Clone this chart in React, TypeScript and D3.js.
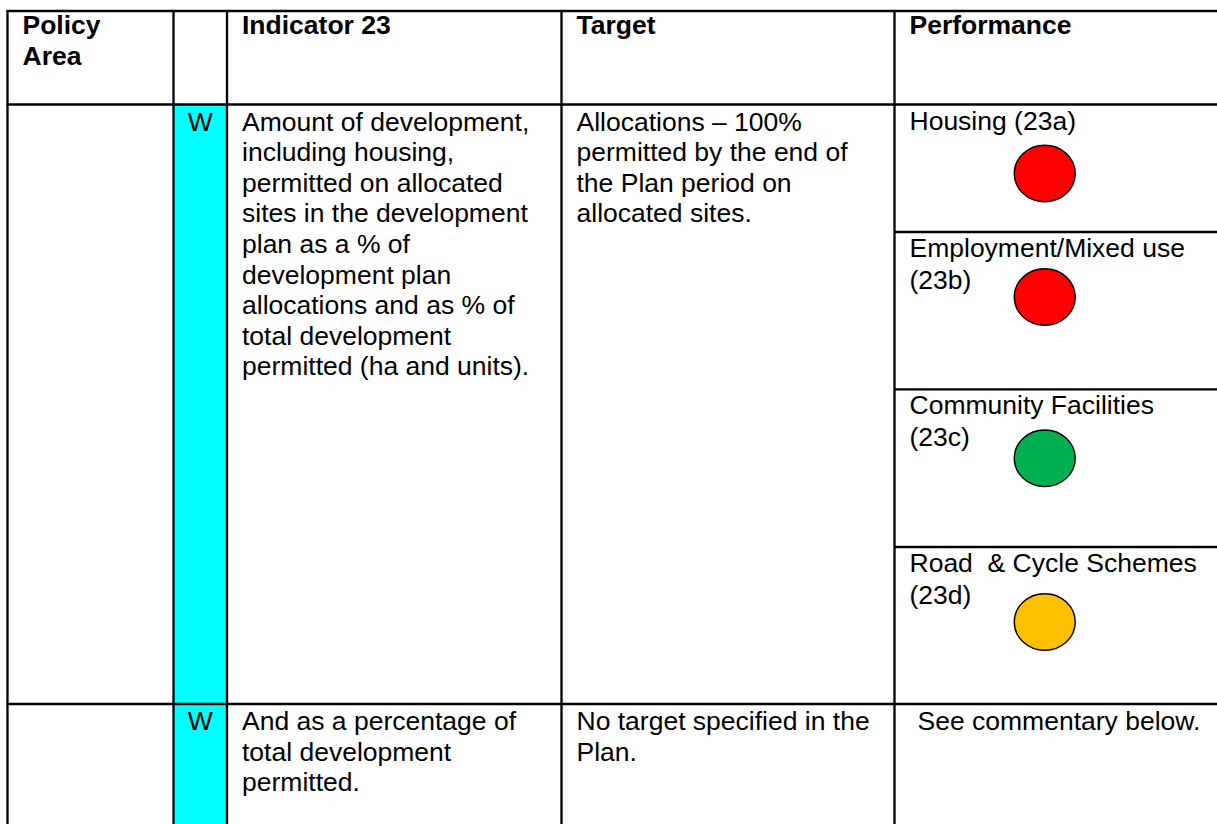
import React from "react";
import * as d3 from "d3";

// ---- data ----
const headers: string[][] = [["Policy", "Area"], [], ["Indicator 23"], ["Target"], ["Performance"]];
const rowMarks: string[] = ["W", "W"];
const indicatorText: string[][] = [
  [
    "Amount of development,",
    "including housing,",
    "permitted on allocated",
    "sites in the development",
    "plan as a % of",
    "development plan",
    "allocations and as % of",
    "total development",
    "permitted (ha and units).",
  ],
  ["And as a percentage of", "total development", "permitted."],
];
const targetText: string[][] = [
  ["Allocations \u2013 100%", "permitted by the end of", "the Plan period on", "allocated sites."],
  ["No target specified in the", "Plan."],
];
const perfLabels: string[][] = [
  ["Housing (23a)"],
  ["Employment/Mixed use", "(23b)"],
  ["Community Facilities", "(23c)"],
  ["Road  & Cycle Schemes", "(23d)"],
];
const perfStatus: string[] = ["red", "red", "green", "amber"];
const commentary = "See commentary below.";

// ---- layout ----
const W = 1217;
const H = 824;
const colEdges = [7.5, 173.5, 227, 561.5, 894.5, 1240];
const rowEdges = [11, 104.5, 704, 860];
const perfEdges = [104.5, 232, 389.3, 547, 704];
const circleOffsets = [69, 65, 69, 75];
const pad = 15;
const lineH = 30.6;
const perfLineH = 31.5;
const font = "'Liberation Sans', Arial, Helvetica, sans-serif";
const fs = 26.5;

const statusColor = d3
  .scaleOrdinal<string, string>()
  .domain(["red", "green", "amber"])
  .range(["#FF0000", "#00B050", "#FFC000"]);

function Lines({ x, y, lines, lh, bold, anchor }: { x: number; y: number; lines: string[]; lh: number; bold?: boolean; anchor?: string }) {
  return (
    <text
      x={x}
      y={y}
      fontFamily={font}
      fontSize={fs}
      fontWeight={bold ? "bold" : "normal"}
      fill="#000"
      textAnchor={anchor || "start"}
      style={{ whiteSpace: "pre" }}
    >
      {lines.map((l, i) => (
        <tspan key={i} x={x} y={y + i * lh}>
          {l}
        </tspan>
      ))}
    </text>
  );
}

export default function App() {
  const cyanX = colEdges[1];
  const cyanW = colEdges[2] - colEdges[1];
  const circleX = (colEdges[4] + 1195) / 2;
  return (
    <svg
      width={W}
      height={H}
      viewBox={`0 0 ${W} ${H}`}
      style={{ position: "absolute", left: 0, top: 0, display: "block", background: "#fff" }}
    >
      <rect x={0} y={0} width={W} height={H} fill="#fff" />
      {/* cyan column */}
      <rect x={cyanX} y={rowEdges[1]} width={cyanW} height={rowEdges[3] - rowEdges[1]} fill="#00FFFF" />

      {/* header */}
      {headers.map((h, i) =>
        h.length ? <Lines key={"h" + i} x={colEdges[i] + pad} y={rowEdges[0] + 23} lines={h} lh={31} bold /> : null
      )}

      {/* body rows */}
      {rowMarks.map((m, r) => {
        const top = rowEdges[r + 1];
        const by = top + 26;
        return (
          <g key={"r" + r}>
            <text x={(colEdges[1] + colEdges[2]) / 2} y={by} fontFamily={font} fontSize={fs} textAnchor="middle">
              {m}
            </text>
            <Lines x={colEdges[2] + pad} y={by} lines={indicatorText[r]} lh={lineH} />
            <Lines x={colEdges[3] + pad} y={by} lines={targetText[r]} lh={lineH} />
          </g>
        );
      })}

      {/* performance sub-cells */}
      {perfLabels.map((lab, i) => {
        const top = perfEdges[i];
        return (
          <g key={"p" + i}>
            <Lines x={colEdges[4] + pad} y={top + 25} lines={lab} lh={perfLineH} />
            <ellipse
              cx={circleX}
              cy={top + circleOffsets[i]}
              rx={30.5}
              ry={28.3}
              fill={statusColor(perfStatus[i])}
              stroke="#000"
              strokeWidth={1.4}
            />
          </g>
        );
      })}
      <Lines x={colEdges[4] + 23} y={rowEdges[2] + 26} lines={[commentary]} lh={perfLineH} />

      {/* grid lines */}
      {rowEdges.slice(0, 3).map((y, i) => (
        <line key={"hl" + i} x1={colEdges[0] - 1} x2={W + 5} y1={y} y2={y} stroke="#000" strokeWidth={2.3} />
      ))}
      {perfEdges.slice(1, 4).map((y, i) => (
        <line key={"pl" + i} x1={colEdges[4]} x2={W + 5} y1={y} y2={y} stroke="#000" strokeWidth={2.3} />
      ))}
      {colEdges.slice(0, 5).map((x, i) => (
        <line key={"vl" + i} x1={x} x2={x} y1={rowEdges[0] - 1} y2={H + 5} stroke="#000" strokeWidth={2.3} />
      ))}
    </svg>
  );
}
